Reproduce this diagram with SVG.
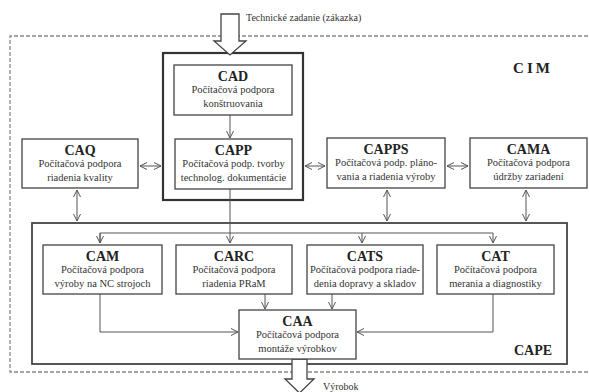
<svg xmlns="http://www.w3.org/2000/svg" width="589" height="392" viewBox="0 0 589 392">
<style>
.bx{fill:#fff;stroke:#444;stroke-width:1.3}
.t{font-family:"Liberation Serif",serif;font-weight:bold;font-size:14px;fill:#222;text-anchor:middle}
.d{font-family:"Liberation Serif",serif;font-size:10.5px;fill:#333;text-anchor:middle}
.c{fill:none;stroke:#555;stroke-width:1}
.dbl{fill:none;stroke:#555;stroke-width:1;marker-start:url(#a);marker-end:url(#a)}
.s{font-family:"Liberation Serif",serif;font-size:10px;fill:#333}
</style>
<defs>
<marker id="a" markerUnits="userSpaceOnUse" markerWidth="9" markerHeight="9" refX="7" refY="4" orient="auto-start-reverse">
<path d="M0,0.5 L7,4 L0,7.5" fill="none" stroke="#555" stroke-width="1"/>
</marker>
</defs>
<rect width="589" height="392" fill="#fff"/>
<g id="cim">
<path d="M600,36 H10 V372 H600" fill="none" stroke="#888" stroke-width="1.3" stroke-dasharray="4 2"/>
<text x="533" y="73" font-family="Liberation Serif,serif" font-weight="bold" font-size="15" letter-spacing="3" text-anchor="middle" fill="#222">CIM</text>
</g>
<g id="cape">
<rect x="32" y="223" width="535" height="141" fill="none" stroke="#444" stroke-width="1.8"/>
<text x="533" y="355" class="t" font-size="15">CAPE</text>
</g>
<g id="cadcapp-frame">
<rect x="163" y="53" width="140" height="147" fill="none" stroke="#333" stroke-width="2.2"/>
</g>
<g id="connectors">
<path class="c" d="M230,115 V138" marker-end="url(#a)"/>
<path class="c" d="M230,189 V243" marker-end="url(#a)"/>
<path class="c" d="M100,243 V233 H493 V243" marker-end="url(#a)"/>
<path class="c" d="M100,233 V243" marker-end="url(#a)"/>
<path class="c" d="M362,233 V243" marker-end="url(#a)"/>
<path class="c" d="M265,294 V309" marker-end="url(#a)"/>
<path class="c" d="M332,294 V309" marker-end="url(#a)"/>
<path class="c" d="M100,294 V332 H238" marker-end="url(#a)"/>
<path class="c" d="M493,294 V332 H357" marker-end="url(#a)"/>
<path class="dbl" d="M140,166 H161"/>
<path class="dbl" d="M305,166 H325"/>
<path class="dbl" d="M447,166 H468"/>
<path class="dbl" d="M77,190 V221"/>
<path class="dbl" d="M387,190 V221"/>
<path class="dbl" d="M526,190 V221"/>
<polygon points="221,14 239,14 239,41 246,41 230,55 214,41 221,41" fill="#fff" stroke="#444" stroke-width="1.3"/>
<polygon points="292,359 307,359 307,379 314,379 299.5,393 285,379 292,379" fill="#fff" stroke="#444" stroke-width="1.3"/>
<text x="246" y="21" class="s">Technické zadanie (zákazka)</text>
<text x="323" y="390" class="s">Výrobok</text>
</g>
<g id="cad">
<rect class="bx" x="174" y="65" width="118" height="50"/>
<text class="t" x="233" y="81">CAD</text>
<text class="d" x="233" y="93">Počítačová podpora</text>
<text class="d" x="233" y="107">konštruovania</text>
</g>
<g id="capp">
<rect class="bx" x="175" y="139" width="117" height="50"/>
<text class="t" x="233.5" y="155">CAPP</text>
<text class="d" x="233.5" y="167">Počítačová podp. tvorby</text>
<text class="d" x="233.5" y="181">technolog. dokumentácie</text>
</g>
<g id="caq">
<rect class="bx" x="22" y="139" width="116" height="49"/>
<text class="t" x="80" y="155">CAQ</text>
<text class="d" x="80" y="167">Počítačová podpora</text>
<text class="d" x="80" y="181">riadenia kvality</text>
</g>
<g id="capps">
<rect class="bx" x="327" y="138" width="118" height="50"/>
<text class="t" x="386" y="154">CAPPS</text>
<text class="d" x="386" y="166">Počítačová podp. pláno-</text>
<text class="d" x="386" y="180">vania a riadenia výroby</text>
</g>
<g id="cama">
<rect class="bx" x="470" y="138" width="117" height="50"/>
<text class="t" x="528.5" y="154">CAMA</text>
<text class="d" x="528.5" y="166">Počítačová podpora</text>
<text class="d" x="528.5" y="180">údržby zariadení</text>
</g>
<g id="cam">
<rect class="bx" x="43" y="245" width="119" height="49"/>
<text class="t" x="102.5" y="261">CAM</text>
<text class="d" x="102.5" y="273">Počítačová podpora</text>
<text class="d" x="102.5" y="287">výroby na NC strojoch</text>
</g>
<g id="carc">
<rect class="bx" x="176" y="245" width="116" height="49"/>
<text class="t" x="234" y="261">CARC</text>
<text class="d" x="234" y="273">Počítačová podpora</text>
<text class="d" x="234" y="287">riadenia PRaM</text>
</g>
<g id="cats">
<rect class="bx" x="307" y="245" width="116" height="49"/>
<text class="t" x="365" y="261">CATS</text>
<text class="d" x="365" y="273">Počítačová podpora riade-</text>
<text class="d" x="365" y="287">denia dopravy a skladov</text>
</g>
<g id="cat">
<rect class="bx" x="437" y="245" width="117" height="49"/>
<text class="t" x="495.5" y="261">CAT</text>
<text class="d" x="495.5" y="273">Počítačová podpora</text>
<text class="d" x="495.5" y="287">merania a diagnostiky</text>
</g>
<g id="caa">
<rect class="bx" x="239" y="310" width="117" height="49"/>
<text class="t" x="297.5" y="326">CAA</text>
<text class="d" x="297.5" y="338">Počítačová podpora</text>
<text class="d" x="297.5" y="352">montáže výrobkov</text>
</g>
</svg>
